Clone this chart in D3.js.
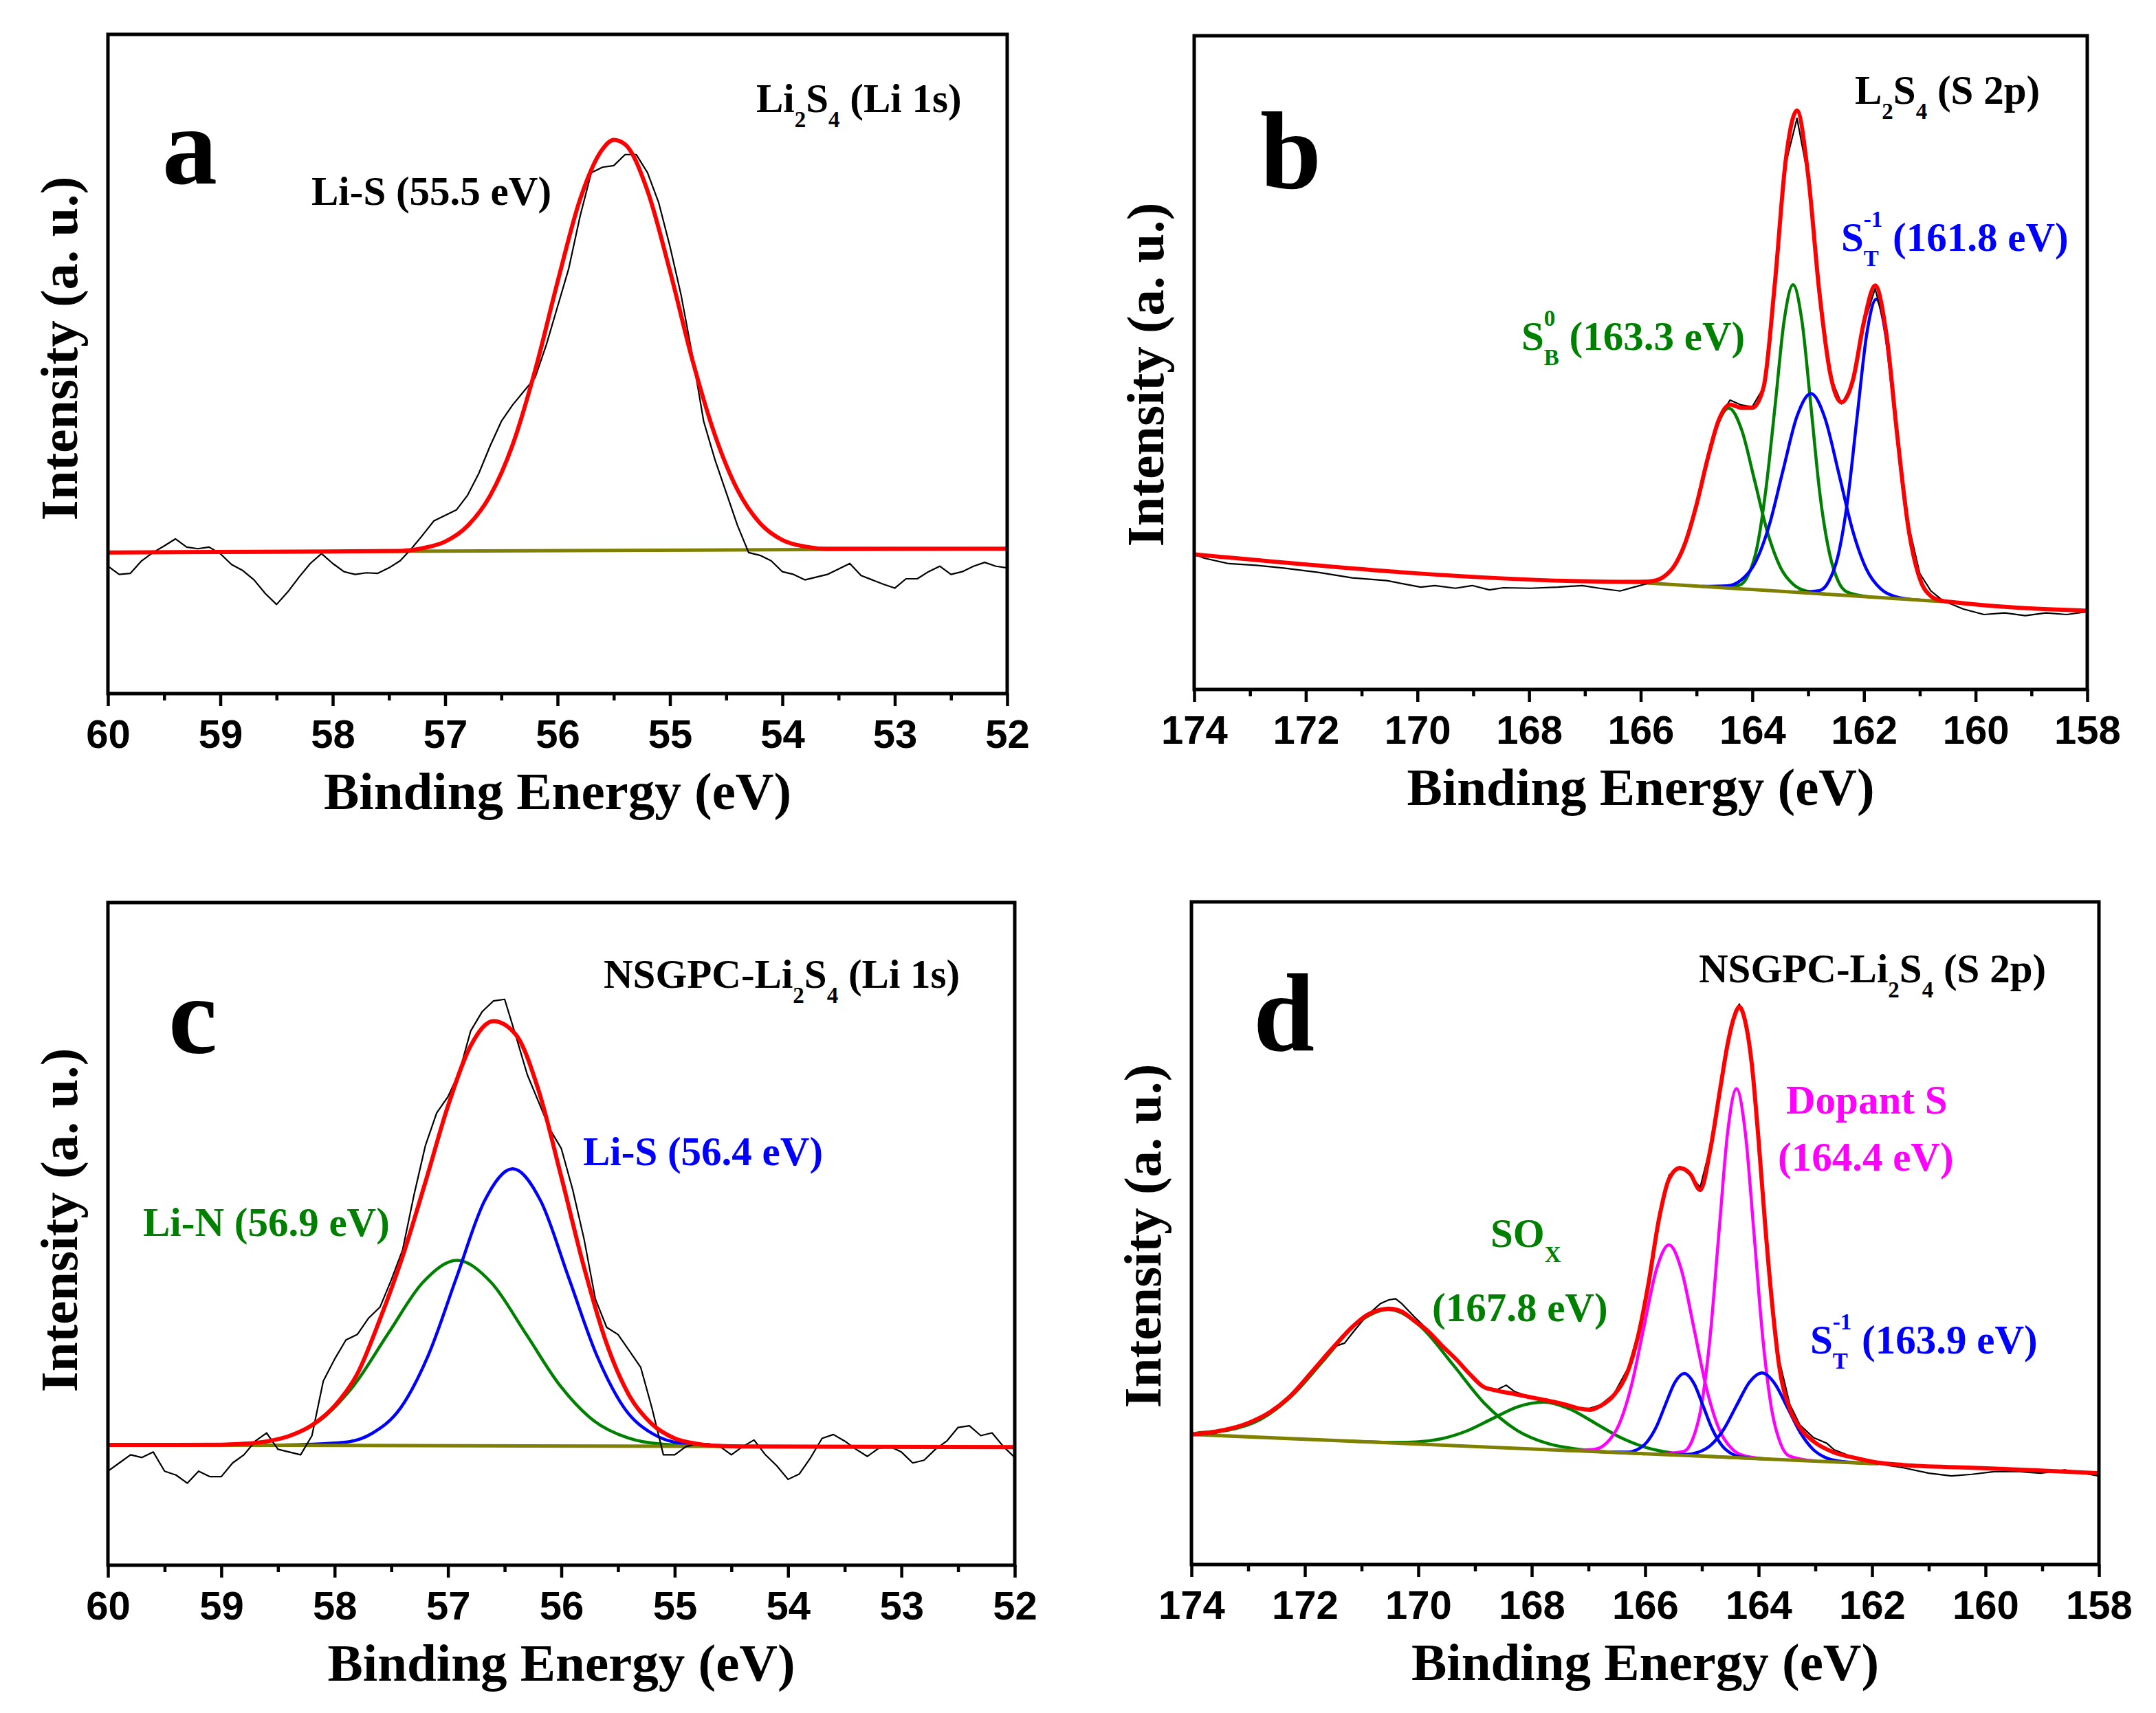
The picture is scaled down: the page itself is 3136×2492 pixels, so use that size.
<!DOCTYPE html>
<html lang="en">
<head>
<meta charset="UTF-8" />
<title>XPS Li 1s / S 2p fits</title>
<script src="https://d3js.org/d3.v7.min.js"></script>
<style>
  body { margin: 0; background: #fff; }
  svg { display: block; background: #fff; }
  .serif { font-family: "Liberation Serif", "Times New Roman", serif; font-weight: bold; white-space: pre; }
  .sans { font-family: "Liberation Sans", Arial, sans-serif; font-weight: bold; }
</style>
</head>
<body>
<svg id="fig" width="3136" height="2492"></svg>
<script>
// ---- ticks ----
const liTicks = [60, 59, 58, 57, 56, 55, 54, 53, 52];
const liMinor = [59.5, 58.5, 57.5, 56.5, 55.5, 54.5, 53.5, 52.5];
const sTicks = [174, 172, 170, 168, 166, 164, 162, 160, 158];
const sMinor = [173, 171, 169, 167, 165, 163, 161, 159];

// ---- a: Li2S4 Li 1s  [eV, intensity a.u.] ----
const aRaw = [
  [60.0,233],[59.9,218],[59.8,220],[59.7,243],[59.6,258],[59.5,270],[59.4,283],[59.3,268],[59.2,265],[59.1,268],
  [59.0,256],[58.9,236],[58.8,225],[58.7,208],[58.6,183],[58.5,163],[58.4,186],[58.3,213],[58.2,238],[58.1,256],
  [58.0,238],[57.9,223],[57.8,218],[57.7,221],[57.6,220],[57.5,230],[57.4,243],[57.3,265],[57.2,290],[57.1,316],
  [57.0,326],[56.9,336],[56.8,363],[56.7,403],[56.6,453],[56.5,498],[56.4,528],[56.3,553],[56.2,578],[56.1,638],
  [56.0,708],[55.9,778],[55.8,873],[55.7,953],[55.6,963],[55.5,966],[55.4,986],[55.3,986],[55.2,953],[55.1,898],
  [55.0,818],[54.9,728],[54.8,618],[54.7,498],[54.6,428],[54.5,368],[54.4,308],[54.3,258],[54.2,253],[54.1,243],
  [54.0,223],[53.9,218],[53.8,208],[53.7,213],[53.6,218],[53.5,228],[53.4,238],[53.3,216],[53.2,208],[53.1,200],
  [53.0,193],[52.9,210],[52.8,210],[52.7,223],[52.6,233],[52.5,218],[52.4,223],[52.3,233],[52.2,240],[52.1,233],[52.0,230]
];
const aFit = [
  [60.0,258],[59.0,259],[58.0,260],[57.4,261],[57.2,266],[57.0,278],[56.8,307],[56.6,362],[56.4,455],[56.2,591],
  [56.0,753],[55.8,904],[55.6,996],[55.5,1013],[55.4,1005],[55.2,920],[55.0,773],[54.8,610],[54.6,473],[54.4,373],
  [54.2,312],[54.0,281],[53.8,269],[53.6,265],[53.0,265],[52.0,265]
];
const aBase = [[60,258],[52,265]];

// ---- b: Li2S4 S 2p ----
const bRaw = [
  [174.0,247],[173.82,240],[173.38,230],[172.89,227],[172.40,222],[171.78,214],[171.17,204],[170.55,199],[169.94,187],[169.69,190],
  [169.32,185],[169.02,190],[168.71,182],[168.46,186],[167.97,185],[167.48,187],[167.05,190],[166.74,185],[166.37,180],[166.12,187],
  [165.94,192],[165.8,196],[165.6,203],[165.4,224],[165.2,266],[165.0,336],[164.8,424],[164.6,497],[164.4,529],[164.2,520],
  [164.0,517],[163.8,552],[163.6,735],[163.4,962],[163.2,1044],[163.0,936],[162.8,728],[162.6,572],[162.4,522],[162.2,560],
  [162.0,668],[161.8,733],[161.6,652],[161.4,466],[161.2,300],[161.0,212],[160.8,180],[160.58,162],[160.22,147],[159.85,137],
  [159.48,140],[159.11,135],[158.74,140],[158.37,137],[158.0,142]
];
const bFit = [
  [174,247],[166.0,196.4],[165.8,197.9],[165.6,205.2],[165.4,225.6],[165.2,268.6],[165.0,337.8],[164.8,422.1],[164.6,492.9],[164.4,520.8],
  [164.2,515],[164.0,515],[163.8,552],[163.6,738.7],[163.4,969.0],[163.2,1058.3],[163.0,939.3],[162.8,726.9],[162.6,575],[162.4,525],
  [162.2,565],[162.0,672.2],[161.8,738.4],[161.6,650.3],[161.4,460.6],[161.2,292.5],[161.0,202.7],[160.8,170.6],[160.6,162.0],[160.4,159.5],[158,144]
];
const bBase = [[166.0,195.5],[160.6,160.7]];
const bSBa = [[162.6,173.6],[163.04,180.0],[163.27,192.4],[163.5,223.8],[163.73,287.8],[163.96,382.1],[164.19,474.0],[164.42,514.3],[164.65,477.0],[164.88,388.0],[165.11,296.7],[165.34,235.7],[165.57,207.2],[165.8,197.8],[166.3,197.4]];
const bSBb = [[161.9,169.1],[162.30,177.9],[162.46,197.4],[162.62,249.7],[162.79,357.5],[162.95,517.0],[163.11,672.6],[163.27,739.9],[163.43,674.6],[163.59,521.1],[163.76,363.7],[163.92,258.0],[164.08,207.8],[164.24,190.3],[164.6,186.5]];
const bSTa = [[161.0,163.3],[161.45,170.2],[161.70,183.9],[161.95,218.7],[162.20,289.6],[162.45,394.3],[162.70,496.2],[162.95,540.9],[163.20,499.4],[163.45,400.7],[163.70,299.3],[163.95,231.6],[164.20,200.0],[164.45,189.5],[164.9,188.4]];
const bSTb = [[160.4,159.5],[160.76,167.8],[160.93,186.9],[161.10,237.6],[161.27,342.2],[161.44,497.0],[161.61,647.9],[161.78,713.3],[161.95,650.1],[162.12,501.3],[162.29,348.7],[162.46,246.3],[162.63,197.8],[162.80,180.8],[163.2,177.5]];

// ---- c: NSGPC-Li2S4 Li 1s ----
const cRaw = [
  [60.0,172],[59.9,187],[59.8,202],[59.7,197],[59.6,207],[59.5,172],[59.4,165],[59.3,150],[59.2,172],[59.1,162],
  [59.0,162],[58.9,187],[58.8,202],[58.7,227],[58.6,242],[58.5,212],[58.4,207],[58.3,202],[58.2,237],[58.1,337],
  [58.0,377],[57.9,412],[57.8,422],[57.7,452],[57.6,472],[57.5,522],[57.4,577],[57.3,677],[57.2,767],[57.1,827],
  [57.0,857],[56.9,902],[56.8,977],[56.7,1012],[56.6,1032],[56.5,1035],[56.4,967],[56.3,897],[56.2,847],[56.1,797],
  [56.0,762],[55.9,687],[55.8,597],[55.7,487],[55.6,435],[55.5,422],[55.4,392],[55.3,362],[55.2,287],[55.1,202],
  [55.0,202],[54.9,217],[54.8,222],[54.7,222],[54.6,217],[54.5,202],[54.4,217],[54.3,229],[54.2,202],[54.1,182],
  [54.0,157],[53.9,167],[53.8,197],[53.7,232],[53.6,239],[53.5,227],[53.4,212],[53.3,199],[53.2,214],[53.1,217],
  [53.0,207],[52.9,187],[52.8,192],[52.7,212],[52.6,227],[52.5,252],[52.4,255],[52.3,237],[52.2,242],[52.1,217],[52.0,197]
];
const cFit = [
  [60.0,220],[59.0,220.4],[58.8,222.1],[58.6,226.5],[58.4,236.4],[58.2,256.1],[58.0,291.4],[57.8,350],[57.6,450],[57.4,565],
  [57.2,700],[57.0,840],[56.8,950],[56.6,995],[56.4,970],[56.2,868],[56.0,710],[55.8,545],[55.6,405],[55.4,310],
  [55.2,258],[55.0,232],[54.8,222],[54.6,218.1],[54.4,217.3],[52.0,216]
];
const cBase = [[60,220],[52,216]];
const cLiN = [[54.5,217.3],[55.105,221.3],[55.41,232.6],[55.71,263.7],[56.01,328.2],[56.315,424.0],[56.62,517.3],[56.92,557.5],[57.22,517.6],[57.525,424.6],[57.83,329.1],[58.13,264.9],[58.435,234.1],[58.74,223.1],[59.2,219.6]];
const cLiS = [[54.4,217.2],[54.94,223.1],[55.19,239.9],[55.44,286.1],[55.685,382.6],[55.935,525.7],[56.18,665.3],[56.43,725.2],[56.68,665.5],[56.925,526.2],[57.175,383.4],[57.42,287.1],[57.67,241.1],[57.92,224.6],[58.5,219.3]];

// ---- d: NSGPC-Li2S4 S 2p ----
const dRaw = [
  [174.00,236],[173.58,240],[173.40,247],[172.97,258],[172.61,277],[172.24,310],[171.88,355],[171.52,397],[171.30,405],[171.15,425],
  [170.91,455],[170.67,477],[170.52,484],[170.40,486],[170.30,478],[170.06,452],[169.82,428],[169.58,402],[169.33,377],[169.09,350],
  [168.85,326],[168.61,320],[168.45,328],[168.30,316],[168.12,310],[167.88,304],[167.64,298],[167.39,292],[167.15,285],[166.97,286],
  [166.79,292],[166.55,312],[166.30,360],[166.12,425],[165.94,520],[165.76,640],[165.58,712],[165.39,728],[165.21,712],[165.03,690],
  [164.85,765],[164.67,880],[164.55,955],[164.42,1012],[164.34,1025],[164.24,998],[164.12,918],[164.00,780],[163.88,625],[163.76,485],
  [163.64,375],[163.45,293],[163.27,255],[163.03,232],[162.80,222],[162.67,210],[162.30,195],[161.94,185],[161.45,177],[161.00,167],
  [160.60,162],[160.24,165],[159.85,170],[159.40,170],[159.03,167],[158.60,173],[158.00,162]
];
const dFit = [
  [174.00,238],[173.58,243],[172.97,260],[172.61,279],[172.24,310],[171.88,352],[171.52,395],[171.15,436],[170.91,456],[170.67,466],
  [170.52,468],[170.30,463],[170.06,445],[169.82,426],[169.58,400],[169.33,375],[169.09,348],[168.85,325],[168.61,318],[168.36,313],
  [168.12,308],[167.88,303],[167.64,298],[167.39,292],[167.15,285],[166.97,283],[166.79,290],[166.55,310],[166.30,355],[166.12,420],
  [165.94,515],[165.76,630],[165.58,705],[165.39,725],[165.21,715],[165.03,685],[164.85,760],[164.67,875],[164.55,950],[164.42,1005],
  [164.34,1020],[164.24,995],[164.12,915],[164.00,775],[163.88,615],[163.76,475],[163.64,365],[163.45,285],[163.27,250],[163.03,225],
  [162.67,205],[162.30,195],[161.94,187],[161.45,182],[160.24,177],[159.03,172],[158.00,167]
];
const dBase = [[174,238],[161.9,184.3]];
const dSOa = [[166.0,202.5],[167.13,210.2],[167.70,220.7],[168.26,245.4],[168.83,294.4],[169.39,365.7],[169.96,435.3],[170.52,466.6],[171.09,440.3],[171.65,375.7],[172.22,309.4],[172.78,265.5],[173.35,245.8],[173.91,240.3],[174.0,238]];
const dSOb = [[164.2,194.5],[165.09,199.5],[165.54,204.3],[165.99,214.2],[166.44,232.6],[166.89,259.1],[167.34,284.9],[167.79,297.0],[168.24,288.8],[168.69,267.0],[169.14,244.5],[169.59,230.1],[170.04,224.2],[170.49,223.4],[171.2,225.6]];
const dDopA = [[163.8,192.7],[164.26,199.0],[164.48,212.7],[164.70,248.5],[164.92,322.5],[165.14,431.8],[165.36,538.4],[165.58,584.6],[165.80,540.3],[166.02,435.7],[166.24,328.4],[166.46,256.4],[166.68,222.4],[166.90,210.7],[167.4,208.7]];
const dDopB = [[163.0,189.2],[163.46,198.6],[163.615,221.6],[163.77,283.7],[163.925,412.7],[164.08,603.7],[164.235,790.1],[164.39,870.4],[164.545,791.5],[164.70,606.5],[164.855,416.9],[165.01,289.3],[165.165,228.6],[165.32,207.0],[165.8,201.6]];
const dSTa = [[163.9,193.2],[164.305,196.7],[164.47,202.3],[164.64,216.7],[164.81,246.0],[164.975,289.0],[165.14,331.0],[165.31,349.4],[165.48,332.5],[165.645,292.0],[165.81,250.4],[165.98,222.7],[166.15,209.7],[166.315,205.6],[166.8,206.1]];
const dSTb = [[162.0,184.8],[162.59,189.1],[162.815,195.3],[163.04,210.6],[163.265,241.4],[163.49,286.7],[163.715,330.9],[163.94,350.4],[164.165,332.9],[164.39,290.7],[164.615,247.4],[164.84,218.6],[165.065,205.3],[165.29,201.1],[165.8,201.6]];

// colours
const RED = "#ff0000", GREEN = "#008000", BLUE = "#0000ff", MAGENTA = "#ff00ff", OLIVE = "#808000";

const panels = [
  { id: "a", box: [157, 50, 1465, 1009], dom: [60, 52], yMax: 1206, ticks: liTicks, minor: liMinor,
    raw: aRaw, fit: aFit, base: aBase, comps: [],
    letter: [236, 267], ylab: 507,
    notes: [
      [453, 298, "#000", [["Li-S (55.5 eV)"]]],
      [1100, 163, "#000", [["Li"], ["2", "sub"], ["S"], ["4", "sub"], [" (Li 1s)"]]]
    ] },
  { id: "b", box: [1737, 52, 3036, 1003], dom: [174, 158], yMax: 1195, ticks: sTicks, minor: sMinor,
    raw: bRaw, fit: bFit, base: bBase,
    comps: [[bSBa, GREEN], [bSBb, GREEN], [bSTa, BLUE], [bSTb, BLUE]],
    letter: [1833, 274], ylab: 545,
    notes: [
      [2698, 151, "#000", [["L"], ["2", "sub"], ["S"], ["4", "sub"], [" (S 2p)"]]],
      [2678, 365, BLUE, [["S"], ["-1", "sup"], ["T", "stack"], [" (161.8 eV)"]]],
      [2213, 509, GREEN, [["S"], ["0", "sup"], ["B", "stack"], [" (163.3 eV)"]]]
    ] },
  { id: "c", box: [157, 1313, 1476, 2277], dom: [60, 52], yMax: 1212, ticks: liTicks, minor: liMinor,
    raw: cRaw, fit: cFit, base: cBase,
    comps: [[cLiN, GREEN], [cLiS, BLUE]],
    letter: [245, 1532], ylab: 1775,
    notes: [
      [878, 1437, "#000", [["NSGPC-Li"], ["2", "sub"], ["S"], ["4", "sub"], [" (Li 1s)"]]],
      [848, 1695, BLUE, [["Li-S (56.4 eV)"]]],
      [208, 1798, GREEN, [["Li-N (56.9 eV)"]]]
    ] },
  { id: "d", box: [1733, 1312, 3053, 2276], dom: [174, 158], yMax: 1212, ticks: sTicks, minor: sMinor,
    raw: dRaw, fit: dFit, base: dBase,
    comps: [[dSOa, GREEN], [dSOb, GREEN], [dDopA, MAGENTA], [dDopB, MAGENTA], [dSTa, BLUE], [dSTb, BLUE]],
    letter: [1823, 1528], ylab: 1798,
    notes: [
      [2471, 1429, "#000", [["NSGPC-Li"], ["2", "sub"], ["S"], ["4", "sub"], [" (S 2p)"]]],
      [2598, 1620, MAGENTA, [["Dopant S"]]],
      [2586, 1703, MAGENTA, [["(164.4 eV)"]]],
      [2168, 1814, GREEN, [["SO"], ["X", "sub"]]],
      [2083, 1922, GREEN, [["(167.8 eV)"]]],
      [2633, 1969, BLUE, [["S"], ["-1", "sup"], ["T", "stack"], [" (163.9 eV)"]]]
    ] }
];

const svg = d3.select("#fig");
svg.append("rect").attr("width", 3136).attr("height", 2492).attr("fill", "#fff");

// text with sub/superscripts, placed piece by piece
function richText(g, x, y, parts, color) {
  let cx = x, lastStart = x;
  parts.forEach(([t, kind]) => {
    const small = !!kind;
    const dy = (kind === "sub" || kind === "stack") ? 22 : kind === "sup" ? -35 : 0;
    const px = kind === "stack" ? lastStart : cx;
    const el = g.append("text").attr("class", "serif")
      .attr("x", px).attr("y", y + dy)
      .attr("font-size", small ? 33 : 59)
      .attr("fill", color).text(t);
    const w = el.node().getComputedTextLength();
    if (kind === "stack") cx = Math.max(cx, px + w);
    else { lastStart = px; cx = px + w; }
  });
}

const byEnergy = arr => arr.slice().sort((u, v) => v[0] - u[0]);

panels.forEach(p => {
  const [l, t, r, b] = p.box;
  const x = d3.scaleLinear().domain(p.dom).range([l, r]);
  const y = d3.scaleLinear().domain([0, p.yMax]).range([b, t]);
  const g = svg.append("g");

  g.append("clipPath").attr("id", "clip-" + p.id)
    .append("rect").attr("x", l).attr("y", t).attr("width", r - l).attr("height", b - t);
  const plot = g.append("g").attr("clip-path", `url(#clip-${p.id})`);

  const smooth = d3.line().x(d => x(d[0])).y(d => y(d[1])).curve(d3.curveMonotoneX);
  const jagged = d3.line().x(d => x(d[0])).y(d => y(d[1]));

  p.comps.forEach(([pts, col]) => {
    plot.append("path").attr("d", smooth(byEnergy(pts)))
      .attr("fill", "none").attr("stroke", col).attr("stroke-width", 4.5);
  });
  plot.append("path").attr("d", jagged(p.base))
    .attr("fill", "none").attr("stroke", OLIVE).attr("stroke-width", 5);
  plot.append("path").attr("d", jagged(byEnergy(p.raw)))
    .attr("fill", "none").attr("stroke", "#000").attr("stroke-width", 2.2).attr("stroke-linejoin", "round");
  plot.append("path").attr("d", smooth(byEnergy(p.fit)))
    .attr("fill", "none").attr("stroke", RED).attr("stroke-width", 6);

  // bottom axis: minor then major ticks
  const minorAx = g.append("g").attr("transform", `translate(0,${b})`)
    .call(d3.axisBottom(x).tickValues(p.minor).tickSize(10).tickFormat(""));
  const majorAx = g.append("g").attr("transform", `translate(0,${b})`)
    .call(d3.axisBottom(x).tickValues(p.ticks).tickSize(18).tickPadding(20).tickFormat(d3.format("d")));
  [minorAx, majorAx].forEach(ax => {
    ax.select(".domain").remove();
    ax.selectAll(".tick line").attr("stroke", "#000").attr("stroke-width", 4.5);
  });
  majorAx.selectAll(".tick text").attr("class", "sans").attr("font-size", 58).attr("fill", "#000");

  g.append("rect").attr("x", l).attr("y", t).attr("width", r - l).attr("height", b - t)
    .attr("fill", "none").attr("stroke", "#000").attr("stroke-width", 5);

  g.append("text").attr("class", "serif").attr("x", (l + r) / 2).attr("y", b + 168)
    .attr("text-anchor", "middle").attr("font-size", 77).text("Binding Energy (eV)");
  g.append("text").attr("class", "serif")
    .attr("transform", `translate(${l - 45},${p.ylab}) rotate(-90)`)
    .attr("text-anchor", "middle").attr("font-size", 77).text("Intensity (a. u.)");

  g.append("text").attr("class", "serif").attr("x", p.letter[0]).attr("y", p.letter[1])
    .attr("font-size", 160).text(p.id);

  p.notes.forEach(([nx, ny, col, parts]) => richText(g, nx, ny, parts, col));
});
</script>
</body>
</html>
